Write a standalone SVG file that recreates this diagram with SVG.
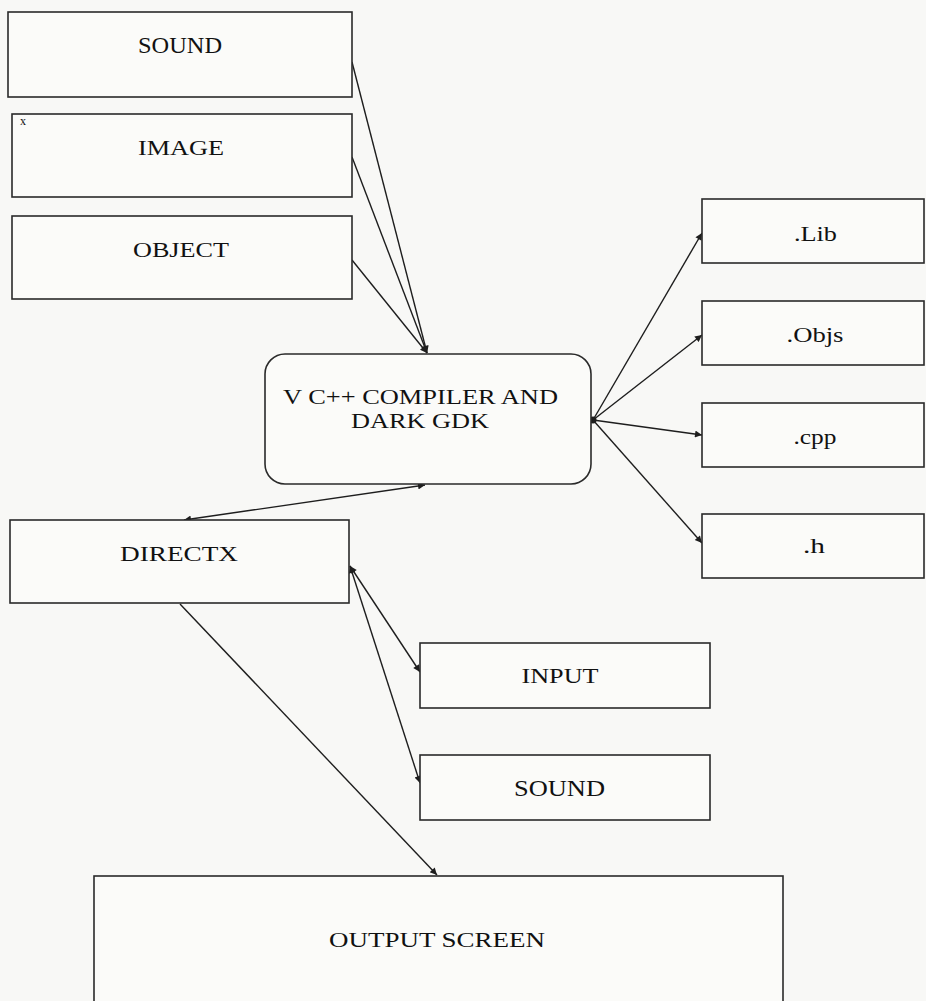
<svg xmlns="http://www.w3.org/2000/svg" width="926" height="1001" viewBox="0 0 926 1001">
<style>
.box{fill:#fbfbf9;stroke:#2a2a2a;stroke-width:1.6}
.t{font-family:"Liberation Serif","Times New Roman",serif;fill:#111;text-anchor:middle}
.c{fill:none;stroke:#1e1e1e;stroke-width:1.4}
</style>
<defs>
<marker id="ah" viewBox="0 0 10 10" refX="10" refY="5" markerWidth="9" markerHeight="7" markerUnits="userSpaceOnUse" orient="auto-start-reverse">
<path d="M0,0 L10,5 L0,10 z" fill="#1e1e1e"/>
</marker>
</defs>
<rect x="0" y="0" width="926" height="1001" fill="#f8f8f6"/>

<g id="connectors">
<line class="c" x1="352" y1="62" x2="427" y2="353" marker-end="url(#ah)"/>
<line class="c" x1="352" y1="157" x2="427" y2="353" marker-end="url(#ah)"/>
<line class="c" x1="352" y1="260" x2="427" y2="353" marker-end="url(#ah)"/>
<circle cx="593" cy="420" r="3.5" fill="#1e1e1e"/>
<line class="c" x1="593" y1="420" x2="702" y2="233" marker-end="url(#ah)"/>
<line class="c" x1="593" y1="420" x2="702" y2="335" marker-end="url(#ah)"/>
<line class="c" x1="593" y1="420" x2="702" y2="435" marker-end="url(#ah)"/>
<line class="c" x1="593" y1="420" x2="702" y2="543" marker-end="url(#ah)"/>
<line class="c" x1="425" y1="485" x2="184" y2="520" marker-start="url(#ah)" marker-end="url(#ah)"/>
<line class="c" x1="350" y1="566" x2="420" y2="672" marker-start="url(#ah)" marker-end="url(#ah)"/>
<line class="c" x1="350" y1="566" x2="420" y2="783" marker-start="url(#ah)" marker-end="url(#ah)"/>
<line class="c" x1="180" y1="604" x2="437" y2="875" marker-end="url(#ah)"/>
</g>

<g id="sound-top">
<rect class="box" x="8" y="12" width="344" height="85"/>
<text class="t" x="180" y="53" font-size="24" textLength="84" lengthAdjust="spacingAndGlyphs">SOUND</text>
</g>
<g id="image">
<rect class="box" x="12" y="114" width="340" height="83"/>
<text x="20" y="125" font-family="Liberation Serif, serif" font-size="12" fill="#111">x</text>
<text class="t" x="181" y="155" font-size="21.5" textLength="86" lengthAdjust="spacingAndGlyphs">IMAGE</text>
</g>
<g id="object">
<rect class="box" x="12" y="216" width="340" height="83"/>
<text class="t" x="181" y="257" font-size="21.5" textLength="96" lengthAdjust="spacingAndGlyphs">OBJECT</text>
</g>
<g id="compiler">
<rect class="box" x="265" y="354" width="326" height="130" rx="20" ry="20"/>
<text class="t" x="420.5" y="404" font-size="20" textLength="275" lengthAdjust="spacingAndGlyphs">V C++ COMPILER AND</text>
<text class="t" x="420" y="428" font-size="20" textLength="138" lengthAdjust="spacingAndGlyphs">DARK GDK</text>
</g>
<g id="lib">
<rect class="box" x="702" y="199" width="222" height="64"/>
<text class="t" x="815.5" y="240.5" font-size="20" textLength="43" lengthAdjust="spacingAndGlyphs">.Lib</text>
</g>
<g id="objs">
<rect class="box" x="702" y="301" width="222" height="64"/>
<text class="t" x="815" y="342" font-size="20" textLength="57" lengthAdjust="spacingAndGlyphs">.Objs</text>
</g>
<g id="cpp">
<rect class="box" x="702" y="403" width="222" height="64"/>
<text class="t" x="815" y="444" font-size="20" textLength="43" lengthAdjust="spacingAndGlyphs">.cpp</text>
</g>
<g id="h">
<rect class="box" x="702" y="514" width="222" height="64"/>
<text class="t" x="814" y="553" font-size="20" textLength="22" lengthAdjust="spacingAndGlyphs">.h</text>
</g>
<g id="directx">
<rect class="box" x="10" y="520" width="339" height="83"/>
<text class="t" x="179" y="561" font-size="21.5" textLength="118" lengthAdjust="spacingAndGlyphs">DIRECTX</text>
</g>
<g id="input">
<rect class="box" x="420" y="643" width="290" height="65"/>
<text class="t" x="560" y="683" font-size="20" textLength="77" lengthAdjust="spacingAndGlyphs">INPUT</text>
</g>
<g id="sound-bottom">
<rect class="box" x="420" y="755" width="290" height="65"/>
<text class="t" x="559.5" y="796" font-size="23" textLength="91" lengthAdjust="spacingAndGlyphs">SOUND</text>
</g>
<g id="output">
<rect class="box" x="94" y="876" width="689" height="140"/>
<text class="t" x="437" y="947" font-size="21" textLength="216" lengthAdjust="spacingAndGlyphs">OUTPUT SCREEN</text>
</g>
</svg>
